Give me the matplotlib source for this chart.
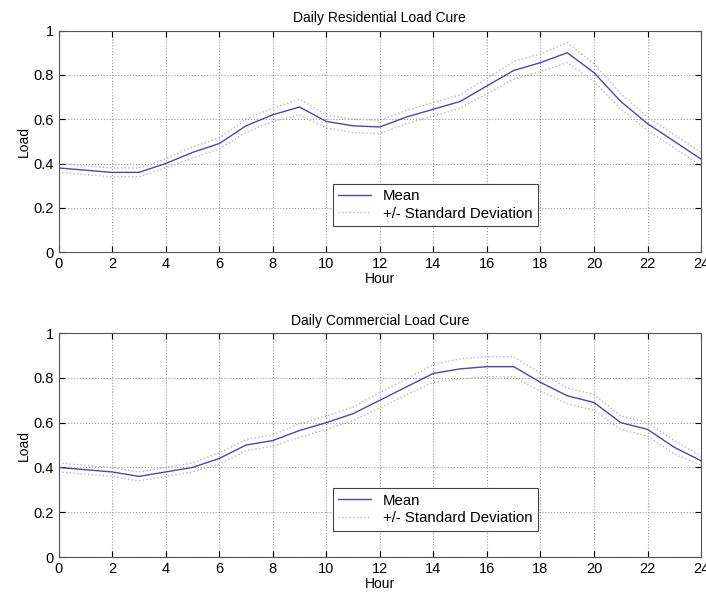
import matplotlib
matplotlib.use("Agg")
import matplotlib.pyplot as plt
import numpy as np

plt.rcParams["font.family"] = ["Liberation Sans", "DejaVu Sans"]

hours = list(range(25))

res_mean = [0.38, 0.37, 0.36, 0.36, 0.40, 0.45, 0.49, 0.57, 0.62, 0.655,
            0.59, 0.57, 0.565, 0.61, 0.645, 0.68, 0.75, 0.82, 0.855, 0.90,
            0.81, 0.68, 0.58, 0.50, 0.42]
res_std = [0.02, 0.02, 0.02, 0.02, 0.02, 0.025, 0.025, 0.03, 0.03, 0.035,
           0.03, 0.03, 0.03, 0.03, 0.03, 0.03, 0.035, 0.04, 0.04, 0.045,
           0.04, 0.035, 0.03, 0.03, 0.03]

com_mean = [0.40, 0.39, 0.38, 0.36, 0.38, 0.40, 0.44, 0.50, 0.52, 0.565,
            0.60, 0.64, 0.70, 0.76, 0.82, 0.84, 0.85, 0.85, 0.78, 0.72,
            0.69, 0.60, 0.57, 0.49, 0.43]
com_std = [0.02, 0.02, 0.02, 0.02, 0.02, 0.02, 0.025, 0.025, 0.025, 0.03,
           0.03, 0.03, 0.035, 0.035, 0.04, 0.045, 0.045, 0.045, 0.04, 0.035,
           0.035, 0.03, 0.03, 0.03, 0.02]

titles = ["Daily Residential Load Cure", "Daily Commercial Load Cure"]

fig = plt.figure(figsize=(7.06, 5.99), dpi=100)
ax1 = fig.add_axes([0.083, 0.579, 0.910, 0.370])
ax2 = fig.add_axes([0.083, 0.070, 0.910, 0.374])

for ax, mean, std, title in [(ax1, res_mean, res_std, titles[0]),
                             (ax2, com_mean, com_std, titles[1])]:
    m = np.array(mean)
    s = np.array(std)
    ax.plot(hours, m, color="#4b4b9e", linewidth=1.0, label="Mean")
    ax.plot(hours, m + s, color="#b8b8b8", linestyle=":", linewidth=1.0,
            label="+/- Standard Deviation")
    ax.plot(hours, m - s, color="#b8b8b8", linestyle=":", linewidth=1.0)
    ax.set_xlim(0, 24)
    ax.set_ylim(0, 1)
    ax.set_xticks(range(0, 25, 2))
    ax.set_yticks([0, 0.2, 0.4, 0.6, 0.8, 1])
    ax.set_yticklabels(["0", "0.2", "0.4", "0.6", "0.8", "1"])
    ax.grid(True, linestyle=":", color="#999999", linewidth=0.8)
    ax.tick_params(direction="in", labelsize=10.5, length=4, top=True, right=True)
    ax.set_title(title, fontsize=10, pad=6)
    ax.set_xlabel("Hour", fontsize=10, labelpad=1)
    ax.set_ylabel("Load", fontsize=10, labelpad=2)
    for sp in ax.spines.values():
        sp.set_color("#555555")
    leg = ax.legend(loc="lower left", bbox_to_anchor=(0.415, 0.085), fontsize=10.8,
                    fancybox=False, framealpha=1, edgecolor="#444444",
                    handlelength=2.2, borderpad=0.35, labelspacing=0.25)
    leg.get_frame().set_linewidth(0.8)

fig.savefig("out.png", dpi=100)
